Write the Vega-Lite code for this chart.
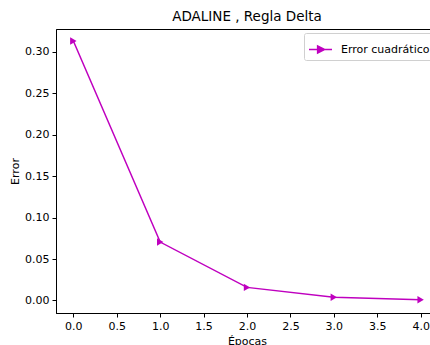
{
  "$schema": "https://vega.github.io/schema/vega-lite/v6.json",
  "autosize": {"type": "none"},
  "width": 382,
  "height": 284,
  "padding": {"left": 56, "top": 29, "right": 0, "bottom": 32},
  "background": "white",
  "config": {
    "font": "DejaVu Sans",
    "view": {"stroke": "#000", "strokeWidth": 1},
    "axis": {"grid": false, "domainColor": "#000", "tickColor": "#000", "labelColor": "#000", "titleColor": "#000", "labelFontSize": 11, "titleFontSize": 11, "titleFontWeight": "normal", "tickSize": 4, "labelPadding": 3}
  },
  "title": {"text": "ADALINE , Regla Delta", "fontSize": 13.5, "fontWeight": "normal", "font": "DejaVu Sans", "color": "#000", "offset": 6, "anchor": "middle"},
  "data": {"values": [
    {"epoca": 0, "error": 0.313, "serie": "Error cuadrático"},
    {"epoca": 1, "error": 0.0705, "serie": "Error cuadrático"},
    {"epoca": 2, "error": 0.0158, "serie": "Error cuadrático"},
    {"epoca": 3, "error": 0.0038, "serie": "Error cuadrático"},
    {"epoca": 4, "error": 0.0009, "serie": "Error cuadrático"}
  ]},
  "encoding": {
    "x": {"field": "epoca", "type": "quantitative", "scale": {"domain": [-0.2, 4.2], "nice": false, "zero": false}, "axis": {"values": [0, 0.5, 1, 1.5, 2, 2.5, 3, 3.5, 4], "format": ".1f", "title": "Épocas", "titlePadding": 4}},
    "y": {"field": "error", "type": "quantitative", "scale": {"domain": [-0.0151, 0.3275], "nice": false, "zero": false}, "axis": {"values": [0, 0.05, 0.1, 0.15, 0.2, 0.25, 0.3], "format": ".2f", "title": "Error", "titlePadding": 4}},
    "color": {"field": "serie", "type": "nominal", "scale": {"range": ["#bf00bf"]}, "legend": {"title": null, "orient": "top-right", "offset": 4, "padding": 4, "strokeColor": "#d0d0d0", "fillColor": "white", "cornerRadius": 2, "labelFontSize": 11, "labelColor": "#000", "symbolType": "M-1,0H1M0.35,0L-0.25,-0.3L-0.25,0.3Z", "symbolSize": 529, "symbolStrokeWidth": 1.5, "symbolFillColor": "#bf00bf", "symbolStrokeColor": "#bf00bf", "labelOffset": 8}}
  },
  "layer": [
    {"mark": {"type": "line", "strokeWidth": 1.5}},
    {"mark": {"type": "point", "shape": "triangle-right", "filled": true, "size": 55, "opacity": 1}}
  ]
}
